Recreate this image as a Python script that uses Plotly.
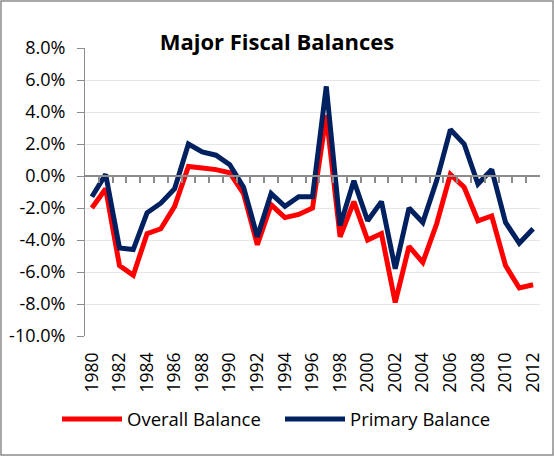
import plotly.graph_objects as go

years = list(range(1980, 2013))
overall_balance = [-2.0, -0.8, -5.6, -6.2, -3.6, -3.3, -1.9, 0.6, 0.5, 0.4, 0.2, -1.1, -4.3,
                   -1.8, -2.6, -2.4, -2.0, 3.8, -3.8, -1.6, -4.0, -3.6, -7.9, -4.4, -5.4,
                   -3.0, 0.1, -0.7, -2.8, -2.5, -5.6, -7.0, -6.8]
primary_balance = [-1.3, 0.1, -4.5, -4.6, -2.3, -1.7, -0.8, 2.0, 1.5, 1.3, 0.7, -0.7, -3.8,
                   -1.1, -1.9, -1.3, -1.3, 5.6, -3.1, -0.3, -2.8, -1.6, -5.8, -2.0, -2.9,
                   -0.3, 2.9, 2.0, -0.5, 0.4, -2.9, -4.2, -3.3]
y_ticks = [-10, -8, -6, -4, -2, 0, 2, 4, 6, 8]
y_tick_labels = ["%.1f%%" % v for v in y_ticks]
x_label_years = years[::2]
boundaries = [y + 0.5 for y in years[:-1]]

FONT = "Open Sans"
fig = go.Figure()
fig.add_trace(go.Scatter(x=years, y=overall_balance, mode="lines", name="Overall Balance",
                         line=dict(color="#FF0000", width=5)))
fig.add_trace(go.Scatter(x=years, y=primary_balance, mode="lines", name="Primary Balance",
                         line=dict(color="#002060", width=5)))
# dummy trace for the zero-line category axis
fig.add_trace(go.Scatter(x=[years[0], years[-1]], y=[0, 0], xaxis="x2", mode="lines",
                         line=dict(color="rgba(0,0,0,0)", width=0), showlegend=False,
                         hoverinfo="skip"))

zero_pos = (0 - (-10)) / 18.0

fig.update_layout(
    width=554, height=456,
    margin=dict(l=85, r=14, t=48, b=120, autoexpand=False),
    paper_bgcolor="white", plot_bgcolor="white",
    font=dict(family=FONT, size=17, color="black"),
    title=dict(text="<b>Major Fiscal Balances</b>", x=0.5, xanchor="center",
               y=1 - 42 / 456, yanchor="middle", font=dict(size=22, family=FONT)),
    xaxis=dict(range=[1979.5, 2012.5], tickvals=x_label_years,
               ticktext=[str(y) for y in x_label_years], tickangle=-90,
               showgrid=False, zeroline=False, showline=False, ticks="",
               ticklabelstandoff=12, automargin=False,
               tickfont=dict(size=17.5)),
    xaxis2=dict(range=[1979.5, 2012.5], overlaying="x", anchor="free", position=zero_pos,
                side="bottom", tickvals=boundaries, showticklabels=False, ticks="outside",
                ticklen=6, tickcolor="#8c8c8c", tickwidth=1.5, showline=True,
                linecolor="#8c8c8c", linewidth=2, showgrid=False, zeroline=False,
                automargin=False),
    yaxis=dict(range=[-10, 8], tickvals=y_ticks, ticktext=y_tick_labels,
               showgrid=True, gridcolor="#e6e6e6", gridwidth=1, zeroline=False,
               showline=True, linecolor="#8c8c8c", linewidth=1, ticks="outside",
               ticklen=7, tickcolor="#8c8c8c", tickfont=dict(size=18),
               ticklabelstandoff=8, automargin=False),
    legend=dict(orientation="h", x=(280 - 85) / 455, xanchor="center", y=-0.29,
                yanchor="middle", font=dict(size=18.5), itemwidth=60, tracegroupgap=0,
                entrywidth=148, entrywidthmode="pixels"),
    showlegend=True,
)

fig.add_shape(type="rect", xref="paper", yref="paper",
              x0=(1 - 85) / 455, x1=(553 - 85) / 455,
              y0=(336 - 455) / 288, y1=(336 - 1) / 288,
              line=dict(color="#8c8c8c", width=1.5), fillcolor="rgba(0,0,0,0)", layer="below")

fig.write_html("out.html", config={"displayModeBar": False},
               post_script="document.body.style.margin='0';document.body.style.overflow='hidden';")
